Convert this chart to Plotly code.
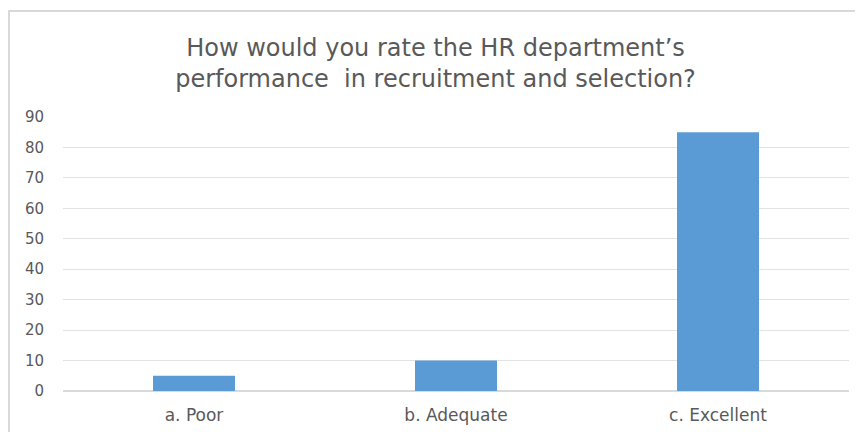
import plotly.graph_objects as go

categories = ["a. Poor", "b. Adequate", "c. Excellent"]
values = [5, 10, 85]
y_ticks = [0, 10, 20, 30, 40, 50, 60, 70, 80, 90]
title_text = "How would you rate the HR department’s<br>performance  in recruitment and selection?"

# page body has an 8px default margin; size the figure to fit the window
W, H = 855, 424
L, R, T, B = 55, 14, 109, 41
pw = W - L - R
ph = H - T - B

FONT = "DejaVu Sans"
GREY = "#595959"

fig = go.Figure(go.Bar(x=categories, y=values,
                       marker=dict(color="#5b9bd5", line=dict(width=0)),
                       width=0.313))

def px_x(p):
    return (p - L) / pw

def px_y(p):
    return 1 - (p - T) / ph

fig.update_layout(
    width=W, height=H,
    margin=dict(l=L, r=R, t=T, b=B, autoexpand=False),
    paper_bgcolor="white", plot_bgcolor="white",
    title=dict(text=title_text, x=0.5, xanchor="center", xref="container",
               y=1 - 48 / H, yanchor="middle", yref="container",
               font=dict(family=FONT, size=24, color=GREY)),
    font=dict(family=FONT, color=GREY, size=15),
    showlegend=False,
    xaxis=dict(showgrid=False, showline=False, ticks="", ticklabelstandoff=12, automargin=False,
               tickfont=dict(family=FONT, size=17, color=GREY)),
    yaxis=dict(range=[0, 90], tickvals=y_ticks, showgrid=True, gridcolor="#e3e3e3", gridwidth=1,
               zeroline=True, zerolinecolor="#d9d9d9", zerolinewidth=2, automargin=False,
               ticks="", ticklabelstandoff=18,
               tickfont=dict(family=FONT, size=15, color=GREY)),
    shapes=[dict(type="rect", xref="paper", yref="paper",
                 x0=px_x(1), x1=px_x(900), y0=px_y(450), y1=px_y(3),
                 line=dict(color="#d9d9d9", width=2), fillcolor="rgba(0,0,0,0)", layer="below")],
)

fig.write_html("out.html")
